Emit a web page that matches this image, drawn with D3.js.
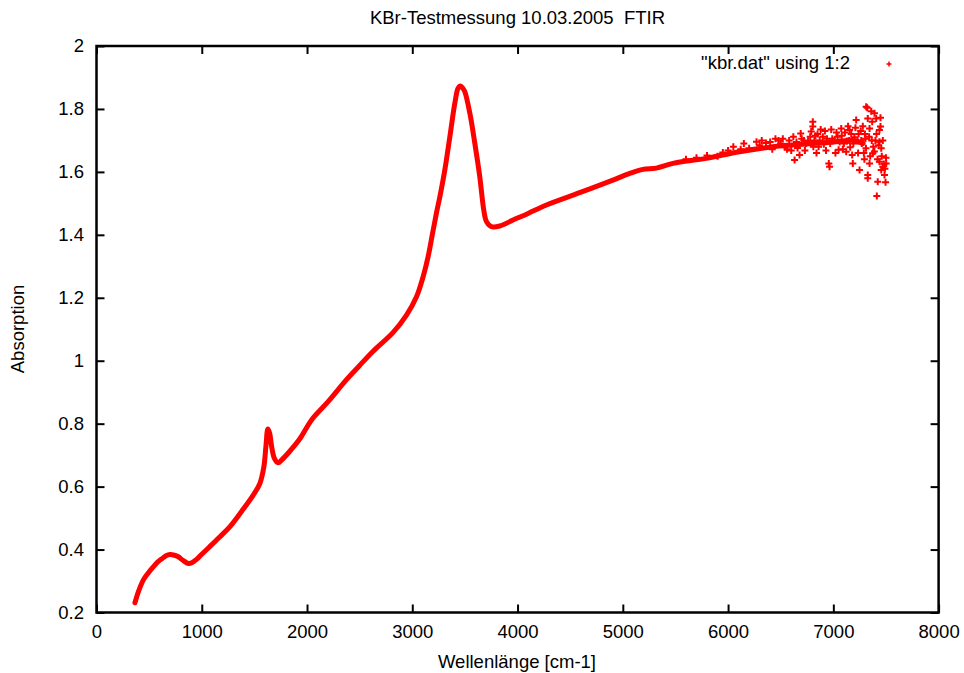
<!DOCTYPE html>
<html><head><meta charset="utf-8">
<script src="https://cdn.jsdelivr.net/npm/d3@7"></script>
<style>body{margin:0;background:#fff}svg{display:block}text{white-space:pre}</style>
</head><body><svg id="c" width="964" height="673"></svg>
<script>
const title = "KBr-Testmessung 10.03.2005  FTIR";
const xLabel = "Wellenlänge [cm-1]";
const yLabel = "Absorption";
const legendLabel = '"kbr.dat" using 1:2';
const xTicks = [0,1000,2000,3000,4000,5000,6000,7000,8000];
const yTicks = [0.2,0.4,0.6,0.8,1,1.2,1.4,1.6,1.8,2];

// dense, smooth part of the spectrum
const wavenumber = [365,400,444,490,539,580,622,660,698,740,777,820,872,910,951,1000,1078,1170,1268,1380,1489,1552,1590,1610,1628,1645,1665,1690,1726,1760,1830,1932,2043,2200,2375,2500,2628,2818,2945,3040,3103,3150,3190,3230,3262,3309,3357,3404,3435,3458,3480,3499,3547,3594,3641,3679,3705,3752,3831,3957,4100,4274,4590,4906,5065,5191,5318,5476,5793,6109,6425,6584,6800,7000,7200,7280];
const absorption = [0.231,0.268,0.303,0.325,0.345,0.360,0.371,0.380,0.384,0.382,0.377,0.366,0.356,0.359,0.369,0.385,0.410,0.440,0.473,0.522,0.573,0.610,0.663,0.730,0.783,0.770,0.725,0.690,0.676,0.685,0.710,0.752,0.812,0.870,0.940,0.985,1.030,1.090,1.145,1.203,1.267,1.330,1.400,1.470,1.521,1.606,1.712,1.818,1.866,1.873,1.866,1.855,1.786,1.691,1.585,1.479,1.442,1.426,1.428,1.447,1.468,1.495,1.534,1.574,1.595,1.608,1.612,1.627,1.643,1.664,1.680,1.685,1.690,1.695,1.700,1.690];

// scattered, noisy points at high wavenumbers
const noisyWavenumber = [5600,5700,5800,5900,5950,6000,6050,6120,6150,6200,6270,6300,6320,6360,6400,6420,6450,6480,6500,6520,6540,6560,6580,6600,6620,6632,6650,6660,6679,6690,6700,6720,6730,6740,6760,6780,6790,6805,6805,6810,6820,6830,6840,6850,6860,6870,6880,6900,6910,6920,6930,6940,6957,6964,6970,6980,6990,7010,7020,7030,7040,7050,7060,7075,7080,7090,7100,7110,7122,7130,7140,7150,7154,7160,7170,7179,7185,7190,7200,7210,7217,7230,7235,7240,7249,7260,7265,7270,7280,7290,7295,7300,7305,7310,7312,7322,7327,7327,7327,7340,7344,7344,7350,7360,7365,7369,7375,7380,7390,7391,7400,7407,7410,7413,7420,7422,7430,7438,7438,7438,7448,7448,7455,7455,7460,7470,7470,7480,7486,7490,7496,7500,7502];
const noisyAbsorption = [1.640,1.645,1.652,1.650,1.662,1.668,1.680,1.672,1.690,1.675,1.696,1.685,1.700,1.692,1.695,1.672,1.705,1.700,1.690,1.705,1.678,1.672,1.700,1.668,1.712,1.638,1.695,1.676,1.654,1.722,1.705,1.700,1.668,1.690,1.698,1.712,1.728,1.759,1.744,1.680,1.700,1.715,1.660,1.720,1.680,1.700,1.735,1.712,1.688,1.730,1.668,1.705,1.627,1.616,1.690,1.735,1.705,1.700,1.660,1.725,1.712,1.670,1.695,1.738,1.715,1.672,1.690,1.725,1.664,1.698,1.745,1.700,1.733,1.678,1.720,1.654,1.627,1.690,1.710,1.740,1.765,1.698,1.660,1.720,1.606,1.730,1.700,1.690,1.745,1.660,1.640,1.720,1.705,1.675,1.807,1.804,1.770,1.590,1.580,1.712,1.738,1.627,1.650,1.793,1.700,1.759,1.659,1.680,1.665,1.786,1.700,1.770,1.720,1.523,1.640,1.569,1.685,1.733,1.696,1.632,1.772,1.744,1.675,1.606,1.650,1.616,1.700,1.625,1.590,1.610,1.567,1.645,1.627];

const L = 96.5, R = 938.6, T = 46, B = 612.5;
const FONT = "'Liberation Sans', Arial, Helvetica, sans-serif";
const FS = 18.5;
const svg = d3.select("#c");
svg.append("rect").attr("width",964).attr("height",673).attr("fill","#fff");

const x = d3.scaleLinear().domain([0,8000]).range([L,R]);
const y = d3.scaleLinear().domain([0.2,2]).range([B,T]);

const tickLen = 8;
function styleAxis(g){
  g.select(".domain").remove();
  g.selectAll(".tick line").attr("stroke","#000").attr("stroke-width",2);
  g.selectAll(".tick text").attr("font-family",FONT).attr("font-size",FS).attr("fill","#000");
}
svg.append("g").attr("transform",`translate(0,${B})`)
  .call(d3.axisBottom(x).tickValues(xTicks).tickSize(-tickLen).tickPadding(12.5).tickFormat(d3.format("d")))
  .call(styleAxis);
svg.append("g").attr("transform",`translate(0,${T})`)
  .call(d3.axisTop(x).tickValues(xTicks).tickSize(-tickLen).tickFormat(""))
  .call(styleAxis);
svg.append("g").attr("transform",`translate(${L},0)`)
  .call(d3.axisLeft(y).tickValues(yTicks).tickSize(-tickLen).tickPadding(12.5).tickFormat(d => d3.format("~g")(d)))
  .call(styleAxis);
svg.append("g").attr("transform",`translate(${R},0)`)
  .call(d3.axisRight(y).tickValues(yTicks).tickSize(-tickLen).tickFormat(""))
  .call(styleAxis);

svg.append("rect").attr("x",L).attr("y",T).attr("width",R-L).attr("height",B-T)
  .attr("fill","none").attr("stroke","#000").attr("stroke-width",2.5);

// data
const pts = wavenumber.map((w,i)=>[w,absorption[i]]);
const line = d3.line().x(d=>x(d[0])).y(d=>y(d[1])).curve(d3.curveCatmullRom.alpha(0.5));
svg.append("path").datum(pts).attr("d",line).attr("fill","none")
  .attr("stroke","#ff0000").attr("stroke-width",5).attr("stroke-linejoin","round").attr("stroke-linecap","round");

const plus = "M-3.5,0H3.5M0,-3.5V3.5";
svg.append("g").selectAll("path").data(noisyWavenumber.map((w,i)=>[w,noisyAbsorption[i]]))
  .join("path").attr("d",plus).attr("transform",d=>`translate(${x(d[0])},${y(d[1])})`)
  .attr("stroke","#ff0000").attr("stroke-width",2).attr("fill","none");

// legend
svg.append("text").attr("x",850).attr("y",69).attr("text-anchor","end")
  .attr("font-family",FONT).attr("font-size",FS).text(legendLabel);
svg.append("path").attr("d","M-2.5,0H2.5M0,-2.5V2.5").attr("transform","translate(889,64)")
  .attr("stroke","#ff0000").attr("stroke-width",1.5);

// titles
svg.append("text").attr("x",517.5).attr("y",24).attr("text-anchor","middle")
  .attr("font-family",FONT).attr("font-size",FS).text(title);
svg.append("text").attr("x",517).attr("y",668).attr("text-anchor","middle")
  .attr("font-family",FONT).attr("font-size",FS).text(xLabel);
svg.append("text").attr("transform","translate(24,329) rotate(-90)").attr("text-anchor","middle")
  .attr("font-family",FONT).attr("font-size",FS).text(yLabel);
</script></body></html>
